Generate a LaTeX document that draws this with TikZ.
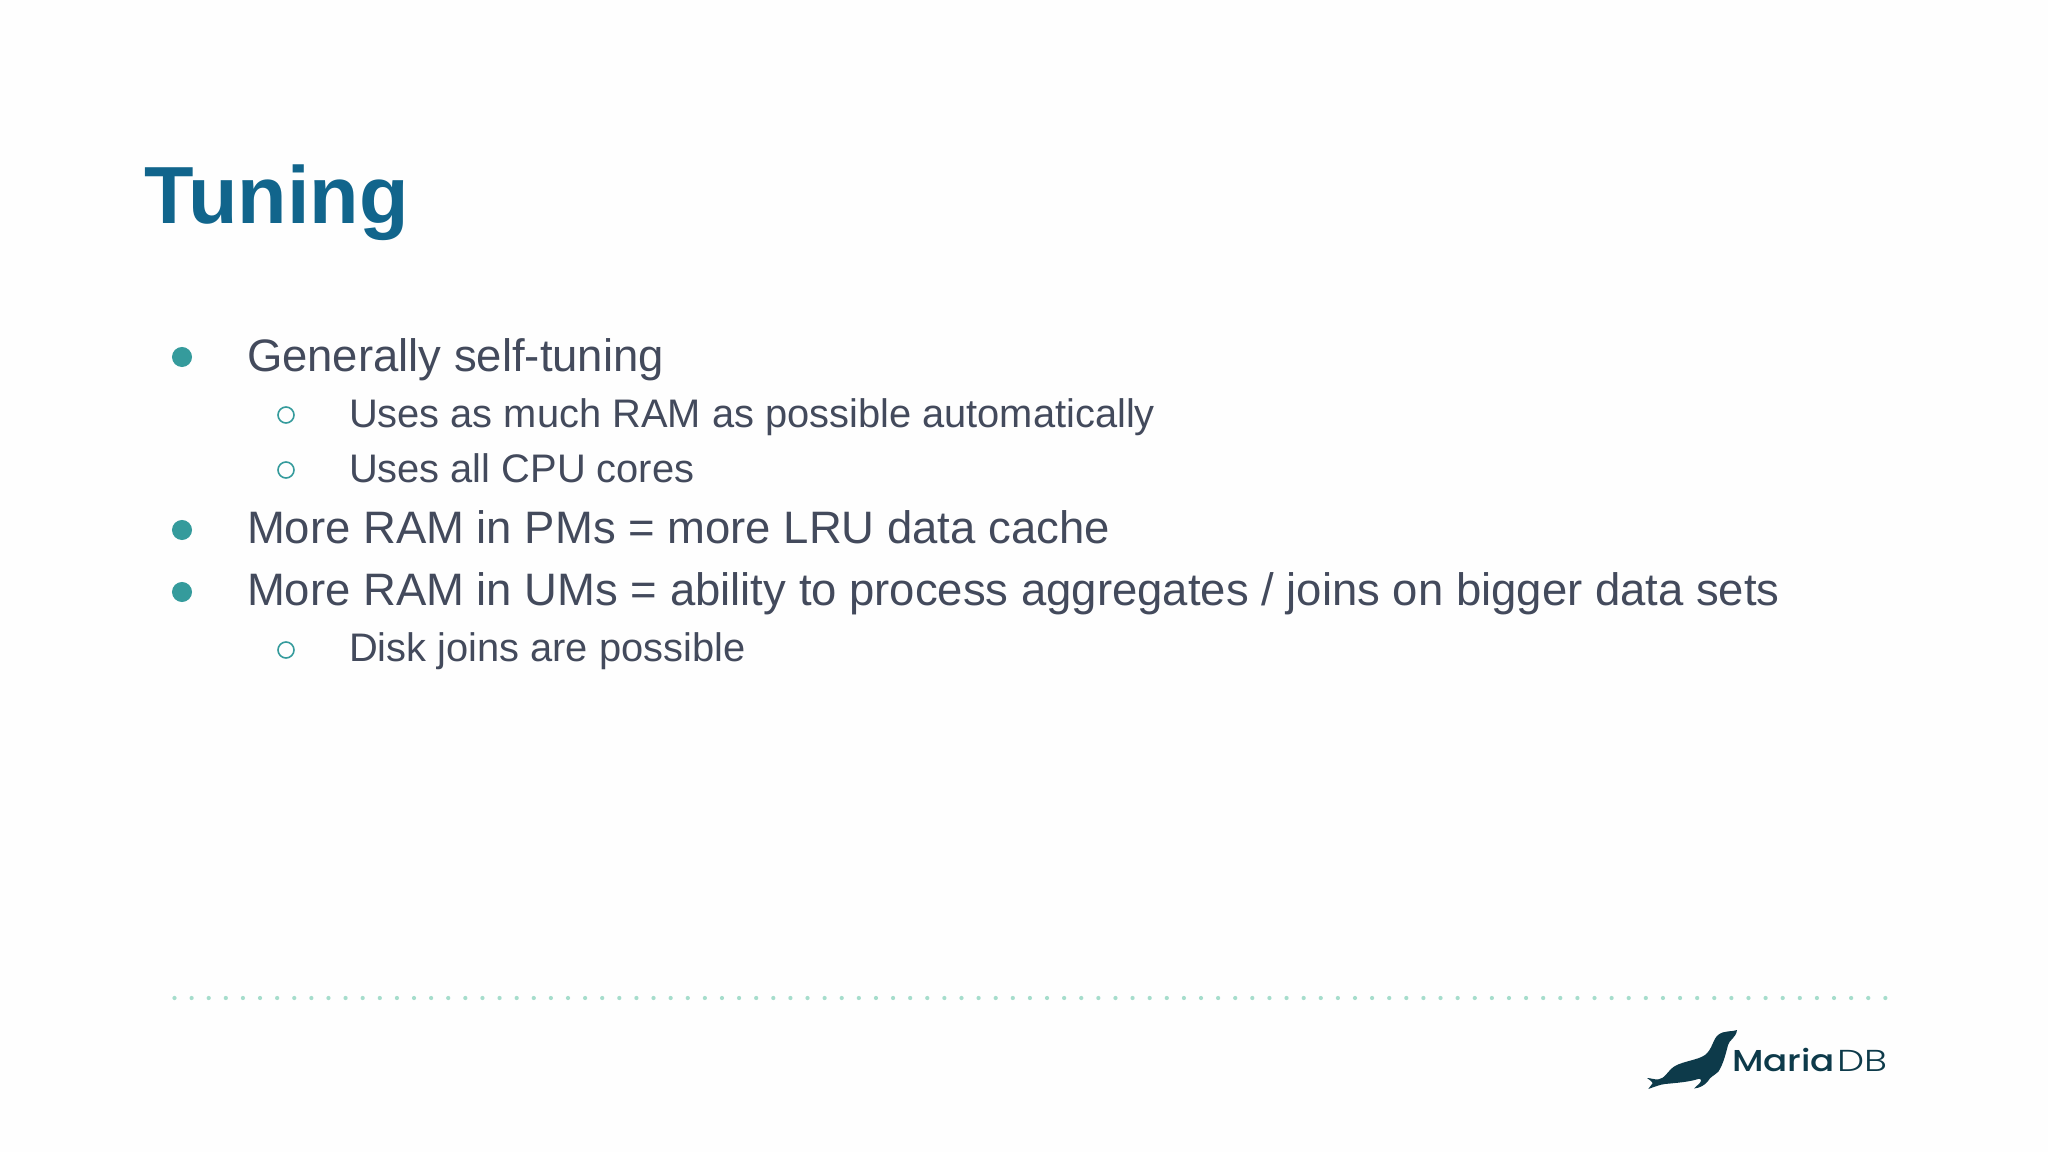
\documentclass[tikz,border=0pt]{standalone}
\usepackage{fontspec}
\setmainfont{Liberation Sans}
\newfontfamily\logofont{Poppins Medium}
\newfontfamily\logolight{Poppins Light}
\definecolor{titleblue}{HTML}{11658C}
\definecolor{bodygrey}{HTML}{434A5C}
\definecolor{bulletteal}{HTML}{359B9C}
\definecolor{dotgreen}{HTML}{A6DDCC}
\definecolor{sealblue}{HTML}{0D3A4A}
\definecolor{pagewhite}{HTML}{FEFEFE}

\begin{document}
\begin{tikzpicture}[x=0.01cm,y=-0.01cm]
            \tikzstyle{every node} = [inner sep=0pt,outer sep=0pt];
            \tikzstyle{heading} = [anchor=base west,text=titleblue,font=\fontsize{23.05pt}{27pt}\selectfont\bfseries];
            \tikzstyle{mainitem} = [anchor=base west,text=bodygrey,font=\fontsize{12.93pt}{15pt}\selectfont];
            \tikzstyle{subitem} = [anchor=base west,text=bodygrey,font=\fontsize{11.33pt}{13pt}\selectfont];
            \tikzstyle{mainbullet} = [circle,fill=bulletteal,minimum size=0.2cm];
            \tikzstyle{subbullet} = [circle,draw=bulletteal,line width=0.45pt,minimum size=0.16cm];
            \tikzstyle{logotext} = [anchor=base west,text=sealblue];
            \fill[pagewhite] (0,0) rectangle (2048,1152);
            \node[heading] (title) at (144.5,224) {Tuning};
            \node[mainbullet] (b1) at (182,357) {};
            \node[mainitem] (t1) at (247,371.5) {Generally self-tuning};
            \node[subbullet] (b2) at (286,415) {};
            \node[subitem] (t2) at (349,427.5) {Uses as much RAM as possible automatically};
            \node[subbullet] (b3) at (286,470) {};
            \node[subitem] (t3) at (349,482.5) {Uses all CPU cores};
            \node[mainbullet] (b4) at (182,530) {};
            \node[mainitem] (t4) at (247,544) {More RAM in PMs = more LRU data cache};
            \node[mainbullet] (b5) at (182,592) {};
            \node[mainitem] (t5) at (247,605.5) {More RAM in UMs = ability to process aggregates / joins on bigger data sets};
            \node[subbullet] (b6) at (286,650) {};
            \node[subitem] (t6) at (349,661.5) {Disk joins are possible};
            % dotted rule
            \coordinate (ruleleft) at (174.5,998);
            \coordinate (ruleright) at (1890,998);
            \draw[dotgreen,line width=1.2pt,line cap=round,dash pattern=on 0pt off 4.865pt] (ruleleft) -- (ruleright);
            % logo
            \fill[sealblue] (1737,1030) .. controls (1733,1032) and (1724,1030) .. (1718,1035)
                .. controls (1713,1039) and (1712,1050) .. (1705,1055)
                .. controls (1698,1060) and (1684,1061) .. (1675,1066)
                .. controls (1668,1070) and (1665,1079) .. (1658,1079.5)
                .. controls (1654,1079.5) and (1650,1078) .. (1647,1078)
                .. controls (1649,1080) and (1652,1081) .. (1652.7,1083)
                .. controls (1652,1085) and (1649,1087) .. (1648.3,1089)
                .. controls (1654,1087) and (1660,1084.5) .. (1665,1084)
                .. controls (1675,1083) and (1690,1082) .. (1699,1078.7)
                .. controls (1701,1079) and (1701,1080) .. (1701,1081)
                .. controls (1700,1084) and (1696,1086) .. (1694,1088.5)
                .. controls (1700,1088) and (1705,1085) .. (1708,1081)
                .. controls (1710,1077) and (1715,1075) .. (1718.3,1071.7)
                .. controls (1723,1065) and (1726,1053) .. (1728,1045)
                .. controls (1729,1040) and (1736,1038) .. (1737,1030) -- cycle;
            \node[logotext,font=\logofont\fontsize{8.6pt}{11pt}\selectfont] (logo) at (1732,1071) {\scalebox{1.18}[1]{Maria}};
            \node[logotext,font=\logolight\fontsize{8.6pt}{11pt}\selectfont] (logodb) at ([xshift=0.02cm]logo.base east) {\scalebox{1.27}[1]{DB}};
        \end{tikzpicture}
\end{document}
